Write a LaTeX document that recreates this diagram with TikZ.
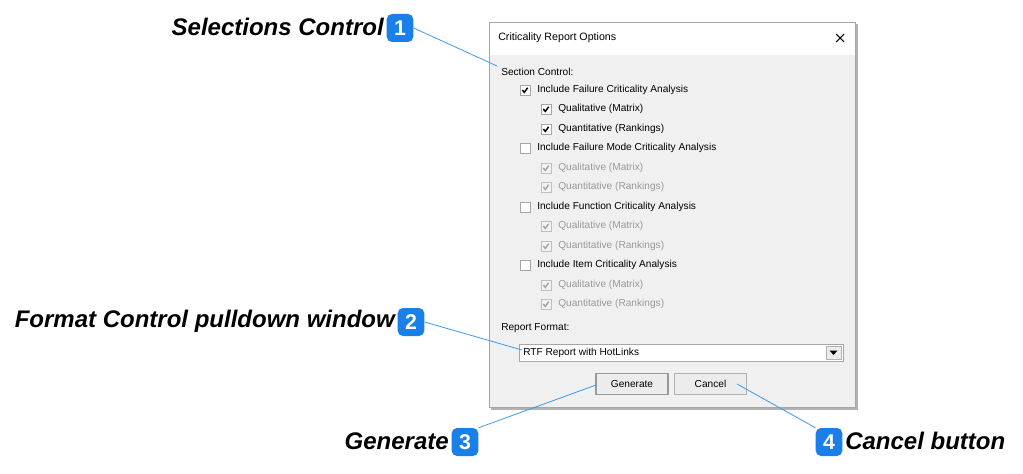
\documentclass[tikz,border=0pt]{standalone}
\usepackage{fontspec}
\setmainfont{Liberation Sans}
\definecolor{badge}{HTML}{1A7FE8}
\definecolor{leader}{HTML}{3A9AF0}
\definecolor{dlg}{HTML}{F0F0F0}
\tikzset{
  badgebox/.style={fill=badge, rounded corners=4pt, minimum width=20pt, minimum height=21pt,
    text=white, font=\bfseries\fontsize{16}{16}\selectfont, inner sep=0pt},
  callout/.style={font=\bfseries\itshape\fontsize{18}{18}\selectfont, inner sep=0pt},
  leaderline/.style={leader, line width=0.6pt},
  dlgtext/.style={font=\fontsize{7.6}{8}\selectfont, inner sep=0pt, anchor=west},
  greytext/.style={dlgtext, text=gray!80},
  chkbox/.style={draw=gray!70, fill=white, minimum size=7.5pt, inner sep=0pt},
  greybox/.style={draw=gray!50, fill=gray!10, minimum size=7.5pt, inner sep=0pt},
  winbutton/.style={draw=gray!60, fill=gray!15, minimum width=54pt, minimum height=16pt,
    font=\fontsize{7.6}{8}\selectfont, inner sep=0pt}
}
\begin{document}
\begin{tikzpicture}[x=0.75pt,y=-0.75pt]
    \useasboundingbox (0,0) rectangle (1023,474);

    % Dialog window
    \fill[gray!60] (491,24) rectangle (858,410);
    \fill[dlg] (489,22) rectangle (855,407);
    \fill[white] (489,22) rectangle (855,55);
    \draw[gray!70] (489,22) rectangle (855,407);
    \node[dlgtext, font=\fontsize{8}{8}\selectfont] (title) at (498,38) {Criticality Report Options};
    \draw[thick] (836,34) -- (844,42) (836,42) -- (844,34);

    \node[dlgtext] (sec) at (501,72) {Section Control:};

    % Check boxes
    \foreach \y/\lvl/\on/\txt in {
        90/1/1/Include Failure Criticality Analysis,
        109/2/1/Qualitative (Matrix),
        129/2/1/Quantitative (Rankings),
        148/1/0/Include Failure Mode Criticality Analysis,
        168/2/2/Qualitative (Matrix),
        187/2/2/Quantitative (Rankings),
        207/1/0/Include Function Criticality Analysis,
        226/2/2/Qualitative (Matrix),
        246/2/2/Quantitative (Rankings),
        265/1/0/Include Item Criticality Analysis,
        285/2/2/Qualitative (Matrix),
        304/2/2/Quantitative (Rankings)} {
        \pgfmathsetmacro{\bx}{\lvl==1 ? 525 : 546}
        \ifnum\on=2
            \node[greybox] (cb) at (\bx,\y) {};
            \draw[gray!70, line width=1.1pt] ([xshift=-2pt]cb.center) -- ++(1.5pt,-1.8pt) -- ++(2.5pt,3.5pt);
            \node[greytext] at (\bx+12,\y) {\txt};
        \else
            \node[chkbox] (cb) at (\bx,\y) {};
            \ifnum\on=1
                \draw[line width=1.1pt] ([xshift=-2pt]cb.center) -- ++(1.5pt,-1.8pt) -- ++(2.5pt,3.5pt);
            \fi
            \node[dlgtext] at (\bx+12,\y) {\txt};
        \fi
    }

    \node[dlgtext] (fmt) at (501,328) {Report Format:};
    \draw[gray!70, fill=white] (519,344) rectangle (843,361);
    \node[dlgtext] (combo) at (523,353) {RTF Report with HotLinks};
    \draw[gray!60, fill=gray!15] (826,346) rectangle (841,359);
    \fill (829.5,350.5) -- (837.5,350.5) -- (833.5,355) -- cycle;

    \node[winbutton, draw=gray!80, line width=0.8pt] (gen) at (632,384) {Generate};
    \node[winbutton] (cancel) at (710.5,384) {Cancel};

    % Callouts
    \node[badgebox] (b1) at (400,28) {1};
    \node[callout, anchor=east] (l1) at (384,27) {Selections Control};
    \node[badgebox] (b2) at (411,322) {2};
    \node[callout, anchor=east] (l2) at (395,321) {Format Control pulldown window};
    \node[badgebox] (b3) at (465,442) {3};
    \node[callout, anchor=east] (l3) at (449,441) {Generate};
    \node[badgebox] (b4) at (829,442) {4};
    \node[callout, anchor=west] (l4) at (845,441) {Cancel button};

    \coordinate (p1) at (497,66);
    \coordinate (p2) at (522,350);
    \coordinate (p3) at (596,385);
    \coordinate (p4) at (737,384);
    \draw[leaderline] (b1.east) -- (p1);
    \draw[leaderline] (b2.east) -- (p2);
    \draw[leaderline] (b3.north east) -- (p3);
    \draw[leaderline] (b4.north west) -- (p4);
\end{tikzpicture}
\end{document}
